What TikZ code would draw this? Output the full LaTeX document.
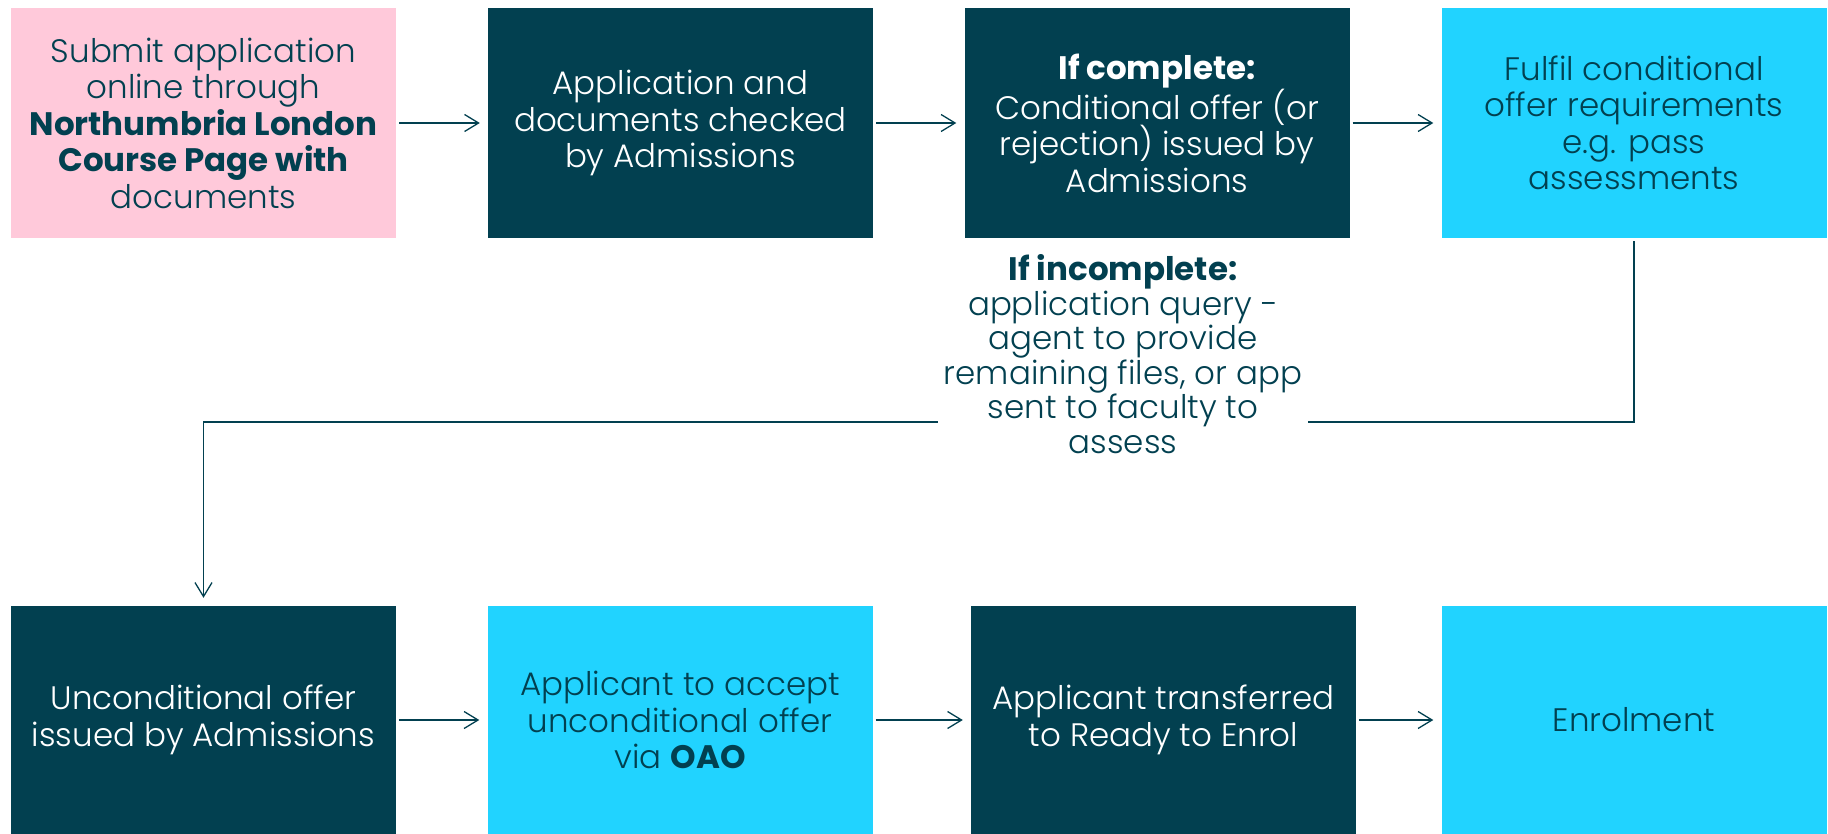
\documentclass[tikz,border=0pt]{standalone}
\usepackage{fontspec}
\setmainfont{Poppins}[UprightFont=* Light, BoldFont=* Bold]
\usetikzlibrary{arrows.meta}
\definecolor{teal}{RGB}{2,64,80}
\definecolor{pinkbox}{RGB}{255,201,218}
\definecolor{cyanbox}{RGB}{33,211,255}
\tikzset{
  boxbase/.style={rectangle, minimum width=385pt, minimum height=230pt, inner sep=0pt, align=center,
    font=\fontsize{32.5}{36.5}\selectfont},
  darkbox/.style={boxbase, fill=teal, text=white},
  pinkb/.style={boxbase, fill=pinkbox, text=teal},
  cyanb/.style={boxbase, fill=cyanbox, text=teal},
  flow/.style={draw=teal, line width=1.3pt, -{Straight Barb[length=14pt,width=17pt]}, shorten <=3pt, shorten >=8pt},
  lbl/.style={fill=white, text=teal, align=center, inner sep=6pt, font=\fontsize{32.5}{34.5}\selectfont}
}
\begin{document}
\begin{tikzpicture}[x=1pt,y=-1pt]
\useasboundingbox (0,0) rectangle (1828,834);
\node[pinkb] (t1) at (203.5,123) {Submit application\\online through\\\textbf{Northumbria London}\\\textbf{Course Page with}\\documents};
\node[darkbox] (t2) at (680.5,123) {Application and\\documents checked\\by Admissions};
\node[darkbox] (t3) at (1157,123) {\textbf{If complete:}\\Conditional offer (or\\rejection) issued by\\Admissions};
\node[cyanb] (t4) at (1634,123) {Fulfil conditional\\offer requirements\\e.g. pass\\assessments};
\node[darkbox, minimum height=228pt] (b1) at (203.5,720) {Unconditional offer\\issued by Admissions};
\node[cyanb, minimum height=228pt] (b2) at (680,720) {Applicant to accept\\unconditional offer\\via \textbf{OAO}};
\node[darkbox, minimum height=228pt] (b3) at (1163.5,720) {Applicant transferred\\to Ready to Enrol};
\node[cyanb, minimum height=228pt] (b4) at (1634,720) {Enrolment};
\draw[flow] (t1) -- (t2);
\draw[flow] (t2) -- (t3);
\draw[flow] (t3) -- (t4);
\draw[flow] (b1) -- (b2);
\draw[flow] (b2) -- (b3);
\draw[flow] (b3) -- (b4);
\coordinate (c1) at (1634,422);
\coordinate (c2) at (203.5,422);
\draw[flow] (t4.south) -- (c1) -- (c2) -- (b1.north);
\node[lbl] (inc) at (1123,354) {\textbf{If incomplete:}\\application query -\\agent to provide\\remaining files, or app\\sent to faculty to\\assess};
\end{tikzpicture}
\end{document}
